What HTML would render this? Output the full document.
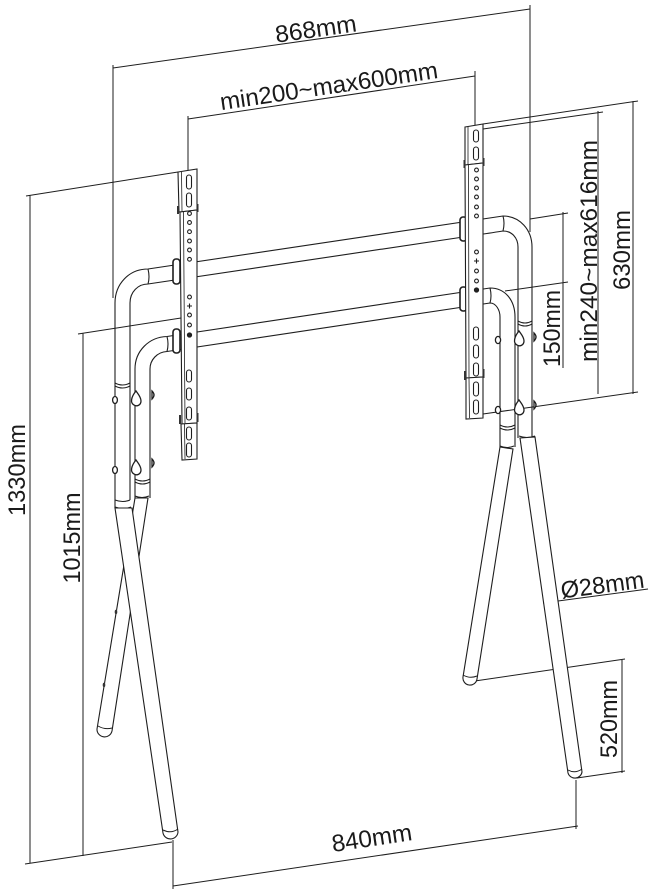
<!DOCTYPE html>
<html><head><meta charset="utf-8"><style>
html,body{margin:0;padding:0;background:#fff;}
svg{display:block;}
text{font-family:"Liberation Sans",Arial,sans-serif;font-size:24px;fill:#1a1a1a;}
</style></head><body>
<svg width="662" height="896" viewBox="0 0 662 896" xmlns="http://www.w3.org/2000/svg">
<g fill="none" stroke="#1e1e1e" stroke-width="1">
<!-- dimension lines -->
<path d="M113,68 L530,9 M113,65 L113,298 M530,5 L530,232"/>
<path d="M188,119 L475,76 M188,116 L188,171 M475,71 L475,125"/>
<path d="M26,196 L178,172 M30,195 L30,863 M25,864 L172,842"/>
<path d="M78,334 L181,318 M83,333 L83,856"/>
<path d="M173,886 L578,826 M173,840 L173,889 M576,780 L576,829"/>
<path d="M468,682 L625,659 M622,659 L622,773 M577,778 L625,771"/>
<path d="M543,603 L648,589"/>
<path d="M483,124 L638,101 M483,129 L603,112 M633,101 L633,394 M598,111 L598,394 M483,414 L638,392"/>
<path d="M530,219 L568,213 M505,291 L568,282 M563,212 L563,368"/>
</g>

<g fill="none" stroke="#1e1e1e" stroke-width="1.1">
<!-- bars + tubes -->
<path d="M130,500 L130,303 C130,292 138,284 148,284 L470,236 C471,236 503,231 503,231 C512,231 518,238 518,247 L518,438"/>
<path d="M115,508 L115,303 C115,284 129,269 148,269 L503,216 C520,216 532,230 532,247 L532,438"/>
<path d="M135,498 L135,369 C135,351 149,337 167,336.5 L490,288 C505,288 515,300 515,317 L515,447"/>
<path d="M150,498 L150,369 C150,360 157,352 167,351.5 L490,303 C496,303 500,310 500,317 L500,447"/>
<!-- seams -->
<path d="M148,269 Q150,277 148,284 M167,336.5 Q169,344 167,351.5 M503,216 Q505,223 503,231 M490,288 Q492,296 490,303"/>
<!-- collars -->
<path d="M115,383 Q122.5,387 130,383 M115,386 Q122.5,390 130,386"/>
<path d="M135,479 Q142.5,483 150,479 M135,482 Q142.5,486 150,482"/>
<path d="M115,500 Q123,503 130,500 M115,507 Q123,510 131,507"/>
<path d="M135,496 Q142,499 149,496"/>
<path d="M518,321 Q525,325 532,321 M518,324 Q525,328 532,324"/>
<path d="M500,425 Q507.5,429 515,425 M500,428 Q507.5,432 515,428"/>
<path d="M500,446 Q507,449 514,446 M519,436 Q527,439 535,436"/>
</g>

<!-- legs -->
<g fill="#fff" stroke="#1e1e1e" stroke-width="1.1">
<path d="M135,498 L97,729 A7.6 7.6 0 0 0 112,731 L148,498 Z"/>
<path d="M115,508 L163,833 A7.6 7.6 0 0 0 178,832 L132,508 Z"/>
<path d="M500,447 L463,677 A7 7 0 0 0 477,679 L513,449 Z"/>
<path d="M520,438 L568,773 A7.2 7.2 0 0 0 582,772 L535,437 Z"/>
</g>
<g fill="none" stroke="#1e1e1e" stroke-width="1">
<path d="M98,726 Q105,730 112,728 M163,830 Q171,834 178,829 M463,675 Q470,679 477,676 M568,770 Q575,774 582,769"/>
</g>
<!-- small knobs on leg B -->
<g fill="#333">
<ellipse cx="116" cy="612" rx="1.3" ry="2.2"/>
<ellipse cx="104" cy="685" rx="1.3" ry="2.2"/>
</g>

<!-- knobs / teardrops -->
<g stroke="#1e1e1e" stroke-width="1.3" fill="#fff">
<ellipse cx="115" cy="400" rx="2.4" ry="3.5"/>
<ellipse cx="115" cy="470" rx="2.4" ry="3.5"/>
<path d="M152,391 Q156,395 152,399 Z"/>
<path d="M152,459 Q156,463 152,467 Z"/>
<path d="M136,391 C131,397 130,403 134,405 C137,407 141,405 141,401 C141,397 138,394 136,391 Z"/>
<path d="M136,460 C131,466 130,472 134,474 C137,476 141,474 141,470 C141,466 138,463 136,460 Z"/>
<ellipse cx="498" cy="340" rx="2.6" ry="3.6"/>
<ellipse cx="498" cy="410" rx="2.6" ry="3.6"/>
<path d="M519,331 C514,337 513,343 517,345 C520,347 524,345 524,341 C524,337 521,334 519,331 Z"/>
<path d="M519,400 C514,406 513,412 517,414 C520,416 524,414 524,410 C524,406 521,403 519,400 Z"/>
<path d="M534,333 Q538,337 534,341 Z"/>
<path d="M534,401 Q538,405 534,409 Z"/>
</g>

<!-- clamps -->
<g fill="#fff" stroke="#1e1e1e" stroke-width="1.6">
<rect x="173" y="259" width="7" height="25" rx="3"/>
<rect x="173" y="329" width="7" height="24" rx="3"/>
<rect x="460" y="217" width="7" height="24" rx="3"/>
<rect x="460" y="287" width="7" height="24" rx="3"/>
</g>

<!-- left bracket -->
<g fill="#fff" stroke="#1e1e1e" stroke-width="1.1">
<path d="M178,172 L197,169 L197,210 L179,212 Z"/>
<path d="M180,212 L197,210 L197,423 L182,424 Z"/>
<path d="M181,424 L197,423 L197,459 L182,460 Z"/>
<path d="M181.5,172 L182,211 M183.5,212 L185,423 M184.5,424 L185,459" fill="none" stroke-width="0.8"/>
<rect x="186.5" y="175" width="5" height="14" rx="2.5"/>
<rect x="186.5" y="193" width="5" height="14" rx="2.5"/>
<rect x="186.5" y="370" width="5" height="12" rx="2.5"/>
<rect x="186.5" y="388" width="5" height="12" rx="2.5"/>
<rect x="186.5" y="407" width="5" height="13" rx="2.5"/>
<rect x="186.5" y="427" width="5" height="13" rx="2.5"/>
<rect x="186.5" y="443" width="5" height="14" rx="2.5"/>
<circle cx="189.5" cy="213.5" r="1.9"/>
<circle cx="189.5" cy="222.5" r="1.9"/>
<circle cx="189.5" cy="231.7" r="1.9"/>
<circle cx="189.5" cy="241" r="1.9"/>
<circle cx="189.5" cy="250" r="1.9"/>
<circle cx="189.5" cy="259.3" r="1.9"/>
<circle cx="189.5" cy="297" r="1.9"/>
<circle cx="189.5" cy="315" r="1.9"/>
<circle cx="189.5" cy="325" r="1.9"/>
<circle cx="189.5" cy="335" r="2.1" fill="#222"/>
<path d="M189.5,303.5 L189.5,308.5 M187,306 L192,306" fill="none"/>
</g>
<g fill="#333">
<rect x="177" y="206" width="2" height="8"/>
<rect x="196.5" y="204" width="2" height="8"/>
<rect x="179" y="415" width="2" height="9"/>
<rect x="196.5" y="413" width="2" height="9"/>
</g>

<!-- right bracket -->
<g fill="#fff" stroke="#1e1e1e" stroke-width="1.1">
<path d="M465,127 L483,124 L483,163 L465,165 Z"/>
<path d="M465,165 L483,163 L483,377 L466,378 Z"/>
<path d="M466,378 L483,377 L483,418 L466,419 Z"/>
<path d="M468,127 L468,164 M468.5,165 L469,377 M469,378 L469.5,418" fill="none" stroke-width="0.8"/>
<rect x="473.5" y="130" width="5" height="12" rx="2.5"/>
<rect x="473.5" y="147" width="5" height="13" rx="2.5"/>
<rect x="473.5" y="327" width="5" height="13" rx="2.5"/>
<rect x="473.5" y="345" width="5" height="13" rx="2.5"/>
<rect x="473.5" y="363" width="5" height="13" rx="2.5"/>
<rect x="473.5" y="382" width="5" height="14" rx="2.5"/>
<rect x="473.5" y="400" width="5" height="14" rx="2.5"/>
<circle cx="476.5" cy="170" r="1.9"/>
<circle cx="476.5" cy="179" r="1.9"/>
<circle cx="476.5" cy="188" r="1.9"/>
<circle cx="476.5" cy="197" r="1.9"/>
<circle cx="476.5" cy="207" r="1.9"/>
<circle cx="476.5" cy="216" r="1.9"/>
<circle cx="476.5" cy="252" r="1.9"/>
<circle cx="476.5" cy="271" r="1.9"/>
<circle cx="476.5" cy="281" r="1.9"/>
<circle cx="476.5" cy="290" r="2.1" fill="#222"/>
<path d="M476.5,258.5 L476.5,263.5 M474,261 L479,261" fill="none"/>
</g>
<g fill="#333">
<rect x="463.5" y="160" width="2" height="8"/>
<rect x="482.5" y="158" width="2" height="8"/>
<rect x="464" y="371" width="2" height="9"/>
<rect x="482.5" y="369" width="2" height="9"/>
</g>

<!-- labels -->
<text transform="translate(317,37) rotate(-8.1)" text-anchor="middle" textLength="82" lengthAdjust="spacingAndGlyphs">868mm</text>
<text transform="translate(330,94) rotate(-8.4)" text-anchor="middle" textLength="220" lengthAdjust="spacingAndGlyphs">min200~max600mm</text>
<text transform="translate(373,846) rotate(-8.5)" text-anchor="middle" textLength="81" lengthAdjust="spacingAndGlyphs">840mm</text>
<text transform="translate(603.5,593) rotate(-7.5)" text-anchor="middle" textLength="84" lengthAdjust="spacingAndGlyphs">Ø28mm</text>
<text transform="translate(25,470) rotate(-90)" text-anchor="middle" textLength="92" lengthAdjust="spacingAndGlyphs">1330mm</text>
<text transform="translate(80,538) rotate(-90)" text-anchor="middle" textLength="91" lengthAdjust="spacingAndGlyphs">1015mm</text>
<text transform="translate(597,251) rotate(-90)" text-anchor="middle" textLength="222" lengthAdjust="spacingAndGlyphs">min240~max616mm</text>
<text transform="translate(630,250) rotate(-90)" text-anchor="middle" textLength="80" lengthAdjust="spacingAndGlyphs">630mm</text>
<text transform="translate(560,328.5) rotate(-90)" text-anchor="middle" textLength="77" lengthAdjust="spacingAndGlyphs">150mm</text>
<text transform="translate(617,719) rotate(-90)" text-anchor="middle" textLength="78" lengthAdjust="spacingAndGlyphs">520mm</text>
</svg>
</body></html>
